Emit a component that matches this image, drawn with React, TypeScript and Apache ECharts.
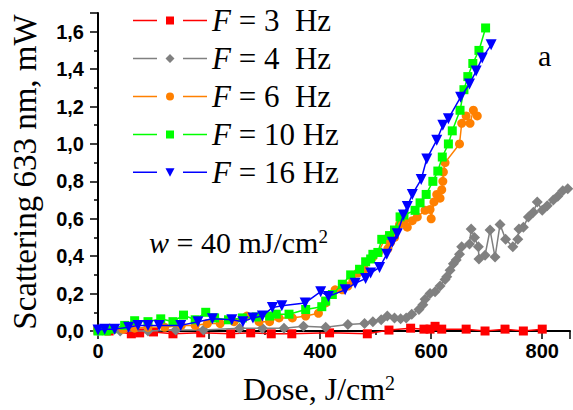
import React, { useEffect, useRef } from "react";
import * as echarts from "echarts";

const seriesNames = ["F = 3  Hz", "F = 4  Hz", "F = 6  Hz", "F = 10 Hz", "F = 16 Hz"];
const seriesColors = ["#ff0000", "#808080", "#ff8000", "#00ff00", "#0000ff"];

const xTicks = [0, 200, 400, 600, 800];
const yTicks = [0, 0.2, 0.4, 0.6, 0.8, 1.0, 1.2, 1.4, 1.6];

// F = 3 Hz (dose J/cm2, scattering mW)
const red3Hz: [number, number][] = [
  [0, 0.005], [20, 0], [60, -0.015], [75, -0.01], [100, -0.005], [135, -0.015], [185, -0.01],
  [239, -0.015], [275, -0.01], [312, -0.015], [349, -0.015], [417, -0.01], [485, -0.015],
  [524, 0.005], [563, 0.015], [587, 0.01], [598, 0.01], [607, 0.025], [619, 0.01], [663, 0.01],
  [697, 0.0], [733, 0.01], [766, 0.0], [800, 0.01],
];

// F = 4 Hz
const gray4Hz: [number, number][] = [
  [0, 0.0], [40, 0.0], [90, 0.0], [140, 0.005], [190, 0.005], [255, 0.015], [296, 0.015],
  [335, 0.015], [370, 0.025], [410, 0.02], [450, 0.035], [480, 0.04], [495, 0.05], [510, 0.06],
  [521, 0.08], [534, 0.07], [545, 0.065], [555, 0.07], [565, 0.09], [578, 0.115], [585, 0.14],
  [589, 0.17], [598, 0.2], [607, 0.21], [616, 0.24], [625, 0.275], [628, 0.29], [634, 0.325],
  [640, 0.36], [645, 0.38], [651, 0.41], [655, 0.45], [669, 0.465], [672, 0.545], [678, 0.5],
  [685, 0.45], [686, 0.385], [697, 0.405], [706, 0.54], [715, 0.395], [724, 0.57], [734, 0.49],
  [747, 0.45], [756, 0.49], [758, 0.545], [766, 0.555], [775, 0.61], [784, 0.635], [791, 0.69],
  [800, 0.645], [809, 0.67], [820, 0.7], [828, 0.72], [837, 0.75], [846, 0.76],
];

// F = 6 Hz
const orange6Hz: [number, number][] = [
  [0, 0.01], [21, 0.015], [45, 0.01], [66, 0.015], [90, 0.02], [120, 0.02], [150, 0.03],
  [175, 0.03], [197, 0.04], [220, 0.04], [245, 0.05], [268, 0.08], [290, 0.05], [309, 0.05],
  [326, 0.07], [350, 0.07], [374, 0.08], [397, 0.095], [410, 0.15], [427, 0.22], [440, 0.22],
  [450, 0.24], [459, 0.27], [468, 0.31], [480, 0.33], [495, 0.395], [505, 0.42], [516, 0.49],
  [522, 0.44], [527, 0.475], [534, 0.5], [543, 0.57], [551, 0.59], [557, 0.555], [566, 0.59],
  [575, 0.61], [589, 0.645], [598, 0.65], [600, 0.6], [605, 0.69], [610, 0.73], [616, 0.71],
  [619, 0.755], [621, 0.8], [622, 0.85], [625, 0.9], [651, 1.0], [655, 1.11], [663, 1.15],
  [670, 1.11], [676, 1.18], [683, 1.15],
];

// F = 10 Hz
const green10Hz: [number, number][] = [
  [0, 0], [15, 0.0], [25, 0.01], [48, 0.03], [66, 0.055], [90, 0.05], [113, 0.065], [135, 0.05],
  [154, 0.085], [175, 0.06], [194, 0.1], [210, 0.07], [235, 0.06], [260, 0.07], [285, 0.075],
  [309, 0.08], [321, 0.09], [344, 0.09], [374, 0.115], [403, 0.13], [410, 0.16], [422, 0.195],
  [440, 0.25], [455, 0.3], [471, 0.33], [482, 0.37], [491, 0.385], [495, 0.41], [504, 0.42],
  [511, 0.49], [525, 0.51], [534, 0.54], [544, 0.61], [551, 0.62], [571, 0.645], [580, 0.685],
  [591, 0.73], [603, 0.8], [612, 0.855], [620, 0.93], [631, 1.0], [638, 1.07], [652, 1.18],
  [659, 1.29], [666, 1.36], [675, 1.43], [686, 1.5], [698, 1.62],
];

// F = 16 Hz
const blue16Hz: [number, number][] = [
  [0, 0.005], [12, 0.01], [30, 0.01], [55, 0.02], [72, 0.03], [90, 0.03], [110, 0.03],
  [149, 0.03], [180, 0.05], [206, 0.065], [241, 0.06], [261, 0.05], [279, 0.07], [296, 0.08],
  [314, 0.125], [331, 0.135], [373, 0.15], [401, 0.21], [415, 0.185], [445, 0.22], [463, 0.255],
  [482, 0.28], [491, 0.31], [507, 0.34], [520, 0.41], [530, 0.475], [539, 0.52], [550, 0.62],
  [557, 0.665], [566, 0.73], [582, 0.81], [592, 0.92], [610, 1.02], [621, 1.1], [631, 1.135],
  [653, 1.25], [669, 1.32], [681, 1.39], [692, 1.46], [708, 1.53],
];

const seriesData = [red3Hz, gray4Hz, orange6Hz, green10Hz, blue16Hz];
const seriesSymbols = ["rect", "diamond", "circle", "rect", "triangle"];
const seriesSymbolSizes = [9, 11, 9, 9, 11];
const seriesRotate = [0, 0, 0, 0, 180];

const LEG_LINES = "M0,4.25H24V5.75H0Z M50,4.25H74V5.75H50Z ";
const legendIcons = [
  "path://" + LEG_LINES + "M33,1H41V9H33Z",
  "path://" + LEG_LINES + "M37,0.5L41.5,5L37,9.5L32.5,5Z",
  "path://" + LEG_LINES + "M33,5A4,4,0,1,0,41,5A4,4,0,1,0,33,5Z",
  "path://" + LEG_LINES + "M33,1H41V9H33Z",
  "path://" + LEG_LINES + "M32.5,1H41.5L37,9.5Z",
];

const SERIF = '"Liberation Serif", "Times New Roman", serif';
const SANS = '"Liberation Sans", Arial, sans-serif';

export default function App() {
  const ref = useRef<HTMLDivElement>(null);
  useEffect(() => {
    document.body.style.margin = "0";
    if (!ref.current) return;
    const chart = echarts.init(ref.current, undefined, { renderer: "svg" });
    chart.setOption({
      animation: false,
      backgroundColor: "#ffffff",
      grid: { left: 96, top: 13, width: 479, height: 322 },
      xAxis: {
        type: "value",
        min: 0,
        max: 850,
        interval: 200,
        name: "Dose, J/cm{s|2}",
        nameLocation: "middle",
        nameGap: 42,
        nameTextStyle: {
          fontFamily: SERIF,
          fontSize: 32,
          color: "#000",
          padding: [0, 30, 0, 0],
          rich: { s: { fontFamily: SERIF, fontSize: 20, verticalAlign: "top", color: "#000" } },
        },
        axisLine: { lineStyle: { color: "#000", width: 2 } },
        axisTick: { show: true, inside: false, length: 8, lineStyle: { color: "#000", width: 1.5 } },
        minorTick: { show: true, splitNumber: 2, length: 4, lineStyle: { color: "#000", width: 1.5 } },
        splitLine: { show: false },
        axisLabel: {
          margin: 10,
          fontFamily: SANS,
          fontWeight: "bold",
          fontSize: 20,
          color: "#000",
          formatter: (v: number) => (xTicks.includes(v) ? String(v) : ""),
        },
      },
      yAxis: {
        type: "value",
        min: 0,
        max: 1.7,
        interval: 0.2,
        name: "Scattering 633 nm, mW",
        nameLocation: "middle",
        nameGap: 57,
        nameTextStyle: { fontFamily: SERIF, fontSize: 33, color: "#000" },
        axisLine: { show: true, lineStyle: { color: "#000", width: 2 } },
        axisTick: { show: true, inside: false, length: 8, lineStyle: { color: "#000", width: 1.5 } },
        minorTick: { show: true, splitNumber: 2, length: 4, lineStyle: { color: "#000", width: 1.5 } },
        splitLine: { show: false },
        axisLabel: {
          margin: 14,
          fontFamily: SANS,
          fontWeight: "bold",
          fontSize: 20,
          color: "#000",
          formatter: (v: number) =>
            yTicks.some((t) => Math.abs(t - v) < 1e-6) ? v.toFixed(1).replace(".", ",") : "",
        },
      },
      legend: {
        orient: "vertical",
        left: 128,
        top: 0,
        itemWidth: 74,
        itemHeight: 10,
        itemGap: 7,
        selectedMode: false,
        data: seriesNames.map((n, i) => ({ name: n, icon: legendIcons[i] })),
        formatter: (n: string) => n.replace("F", "{i|F}"),
        textStyle: {
          fontFamily: SERIF,
          fontSize: 31,
          lineHeight: 31,
          color: "#000",
          rich: { i: { fontFamily: SERIF, fontStyle: "italic", fontSize: 31, lineHeight: 31, color: "#000" } },
        },
      },
      graphic: [
        {
          type: "text",
          left: 538,
          top: 40,
          style: { text: "a", font: `30px ${SERIF}`, fill: "#000" },
        },
        {
          type: "text",
          left: 149,
          top: 227,
          style: {
            text: "{i|w} = 40 mJ/cm{s|2}",
            fontFamily: SERIF,
            fontSize: 30,
            fill: "#000",
            rich: {
              i: { fontFamily: SERIF, fontStyle: "italic", fontSize: 30, fill: "#000" },
              s: { fontFamily: SERIF, fontSize: 19, verticalAlign: "top", fill: "#000" },
            },
          },
        },
      ],
      series: seriesNames.map((n, i) => ({
        name: n,
        type: "line",
        data: seriesData[i],
        symbol: seriesSymbols[i],
        symbolSize: seriesSymbolSizes[i],
        symbolRotate: seriesRotate[i],
        showAllSymbol: true,
        clip: false,
        color: seriesColors[i],
        itemStyle: { color: seriesColors[i] },
        lineStyle: { color: seriesColors[i], width: 1.5 },
        emphasis: { disabled: true },
        z: 2 + i,
      })),
    });
    return () => chart.dispose();
  }, []);
  return <div ref={ref} style={{ width: 573, height: 410 }} />;
}
